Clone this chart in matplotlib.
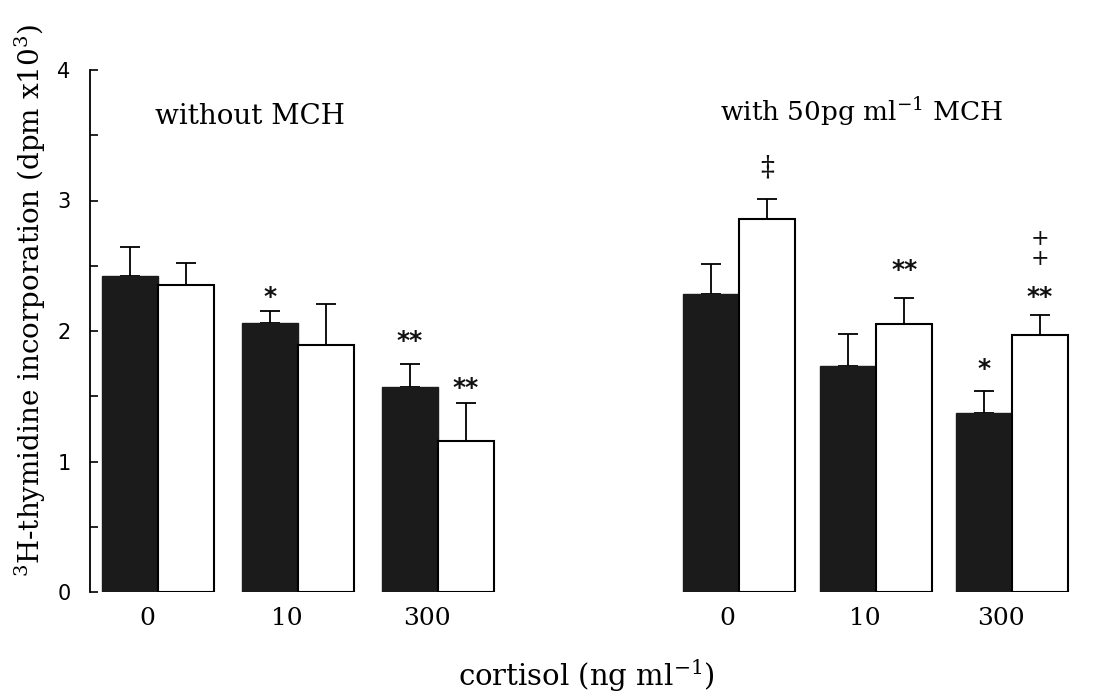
import matplotlib
matplotlib.use("Agg")
import matplotlib.pyplot as plt
import numpy as np

plt.rcParams['font.family'] = ['DejaVu Serif']
plt.rcParams['mathtext.fontset'] = 'dejavuserif'

# Data
cortisol_labels = ["0", "10", "300"]
# without MCH
left_black = [2.42, 2.06, 1.57]
left_black_err = [0.22, 0.09, 0.18]
left_white = [2.35, 1.89, 1.16]
left_white_err = [0.17, 0.32, 0.29]
# with 50 pg/ml MCH
right_black = [2.28, 1.73, 1.37]
right_black_err = [0.23, 0.25, 0.17]
right_white = [2.86, 2.05, 1.97]
right_white_err = [0.15, 0.20, 0.15]

# annotations: (group side, index, series, text, y)
annotations = [
    ("left", 1, "black", "*", 2.26),
    ("left", 2, "black", "**", 1.92),
    ("left", 2, "white", "**", 1.56),
    ("right", 0, "white", "\u2021", 3.25),
    ("right", 1, "white", "**", 2.47),
    ("right", 2, "black", "*", 1.71),
    ("right", 2, "white", "**", 2.26),
    ("right", 2, "white", "+\n+", 2.63),
]

left_pos = np.array([0.0, 1.0, 2.0])
right_pos = np.array([4.15, 5.13, 6.1])
bw = 0.4

fig = plt.figure(figsize=(10.95, 6.96), dpi=100)
ax = fig.add_axes([90/1095, 104/696, 990/1095, 522/696])

dark = '#1b1b1b'
ekw = dict(ecolor='black', elinewidth=1.3, capsize=7, capthick=1.3)

for pos, blk, blke, wht, whte in [(left_pos, left_black, left_black_err, left_white, left_white_err),
                                   (right_pos, right_black, right_black_err, right_white, right_white_err)]:
    xb = pos - bw/2
    xw = pos + bw/2
    ax.bar(xb, blk, width=bw, color=dark, edgecolor=dark, linewidth=1.0, zorder=2)
    ax.bar(xw, wht, width=bw, color='white', edgecolor='black', linewidth=1.5, zorder=2)
    ax.errorbar(xb, blk, yerr=[np.zeros(3), blke], fmt='none', zorder=1, **ekw)
    ax.errorbar(xw, wht, yerr=[np.zeros(3), whte], fmt='none', zorder=1, **ekw)

for side, i, ser, txt, y in annotations:
    pos = left_pos if side == "left" else right_pos
    x = pos[i] - bw/2 if ser == "black" else pos[i] + bw/2
    if txt.startswith("*"):
        ax.text(x, y, txt, ha='center', va='center', fontsize=18, fontweight='bold',
                family='DejaVu Sans', color='#111111')
    elif txt == "\u2021":
        ax.text(x, y, txt, ha='center', va='center', fontsize=20, color='#111111')
    else:
        ax.text(x, y, txt, ha='center', va='center', fontsize=16, linespacing=0.85,
                color='#111111')

ax.set_xlim(-0.486, 6.586)
ax.set_ylim(0, 4)
for s in ['top', 'right', 'bottom']:
    ax.spines[s].set_visible(False)
ax.spines['left'].set_linewidth(1.3)

ax.set_yticks([0, 1, 2, 3, 4])
ax.set_yticks(np.arange(0.5, 4, 1.0), minor=True)
ax.tick_params(axis='y', which='both', direction='in', length=6, width=1.2, pad=14)
for lab in ax.get_yticklabels():
    lab.set_family('DejaVu Sans')
    lab.set_fontsize(15)

xt = list(left_pos - 0.08) + list(right_pos - 0.08)
ax.set_xticks(xt)
ax.set_xticklabels(cortisol_labels * 2, fontsize=18)
ax.tick_params(axis='x', length=0, pad=11)

fig.text(250/1095, 1 - 117/696, "without MCH", ha='center', va='center', fontsize=20)
fig.text(862/1095, 1 - 112/696, "with 50pg ml$^{-1}$ MCH", ha='center', va='center', fontsize=19)
fig.text(586/1095, 1 - 676/696, "cortisol (ng ml$^{-1}$)", ha='center', va='center', fontsize=21)
fig.text(30/1095, 1 - 300/696, "$^{3}$H-thymidine incorporation (dpm x10$^{3}$)",
         ha='center', va='center', rotation=90, fontsize=20)

fig.savefig("out.png", dpi=100)
